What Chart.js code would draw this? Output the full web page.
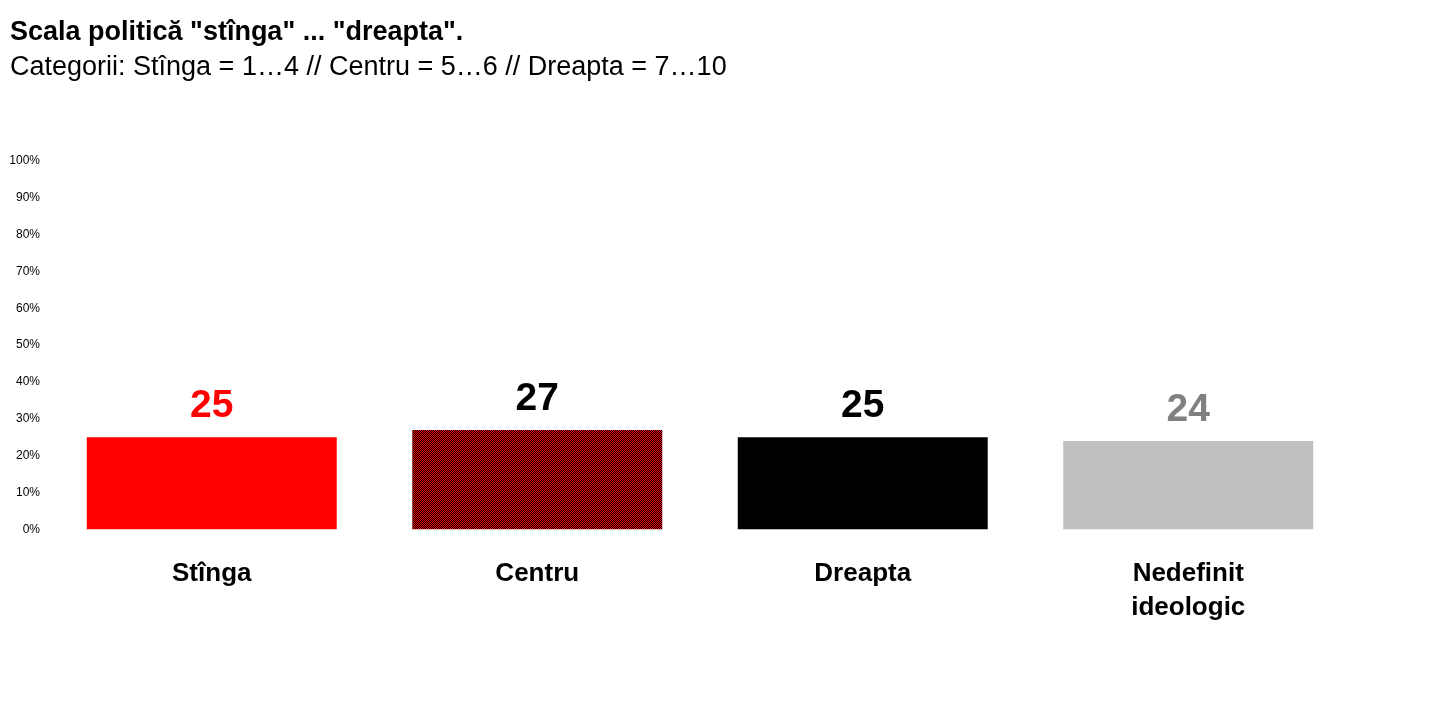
<!DOCTYPE html>
<html>
<head>
<meta charset="utf-8">
<script src="https://cdn.jsdelivr.net/npm/chart.js@4/dist/chart.umd.min.js"></script>
<style>
  html, body { margin: 0; padding: 0; background: #fff; }
  #wrap { width: 1436px; height: 721px; }
</style>
</head>
<body>
<div id="wrap"><canvas id="myChart" width="1436" height="721"></canvas></div>
<script>
const ctx = document.getElementById('myChart');

const titleText = 'Scala politică "stînga" ... "dreapta".';
const subtitleText = 'Categorii: Stînga = 1…4 // Centru = 5…6 // Dreapta = 7…10';
const categories = ['Stînga', 'Centru', 'Dreapta', ['Nedefinit', 'ideologic']];
const values = [25, 27, 25, 24];
const labelColors = ['#ff0000', '#000000', '#000000', '#808080'];
const yTicks = [0, 10, 20, 30, 40, 50, 60, 70, 80, 90, 100];

const FONT = 'Arial, "Liberation Sans", sans-serif';

// red / black checker for the "Centru" bar
function checker() {
    const c = document.createElement('canvas');
    c.width = 2; c.height = 2;
    const g = c.getContext('2d');
    g.fillStyle = '#000000';
    g.fillRect(0, 0, 2, 2);
    g.fillStyle = '#ff0000';
    g.fillRect(0, 0, 1, 1);
    g.fillRect(1, 1, 1, 1);
    return g.createPattern(c, 'repeat');
}
const barColors = ['#ff0000', checker(), '#000000', '#c0c0c0'];

const valueLabels = {
    id: 'valueLabels',
    afterDatasetsDraw(chart) {
        const c = chart.ctx;
        const meta = chart.getDatasetMeta(0);
        c.save();
        c.font = 'bold 39px ' + FONT;
        c.textAlign = 'center';
        c.textBaseline = 'alphabetic';
        meta.data.forEach((bar, i) => {
            c.fillStyle = labelColors[i];
            c.fillText(values[i], bar.x, bar.y - 20);
        });
        c.restore();
    }
};

const myChart = new Chart(ctx, {
    type: 'bar',
    data: {
        labels: categories,
        datasets: [{
            data: values,
            backgroundColor: barColors,
            borderWidth: 0,
            barPercentage: 0.768,
            categoryPercentage: 1
        }]
    },
    plugins: [valueLabels],
    options: {
        responsive: false,
        animation: false,
        layout: { padding: { left: 10, right: 85, top: 0, bottom: 68 } },
        plugins: {
            legend: { display: false },
            tooltip: { enabled: false },
            title: {
                display: true,
                text: titleText,
                align: 'start',
                color: '#000',
                font: { family: FONT, size: 27, weight: 'bold', lineHeight: 1.2 },
                padding: { top: 16, bottom: 3 }
            },
            subtitle: {
                display: true,
                text: subtitleText,
                align: 'start',
                color: '#000',
                font: { family: FONT, size: 27, weight: 'normal', lineHeight: 1.2 },
                padding: { top: 0, bottom: 77 }
            }
        },
        scales: {
            x: {
                grid: { display: false, drawTicks: false },
                border: { display: false },
                ticks: {
                    color: '#000',
                    padding: 28,
                    maxRotation: 0,
                    font: { family: FONT, size: 26, weight: 'bold', lineHeight: 1.3 }
                }
            },
            y: {
                min: 0,
                max: 100,
                afterFit(scale) { scale.width = 39; },
                afterBuildTicks(scale) { scale.ticks = yTicks.map(v => ({ value: v })); },
                grid: { display: false, drawTicks: false },
                border: { display: false },
                ticks: {
                    color: '#000',
                    padding: 9,
                    font: { family: FONT, size: 12 },
                    callback: v => v + '%'
                }
            }
        }
    }
});
</script>
</body>
</html>
